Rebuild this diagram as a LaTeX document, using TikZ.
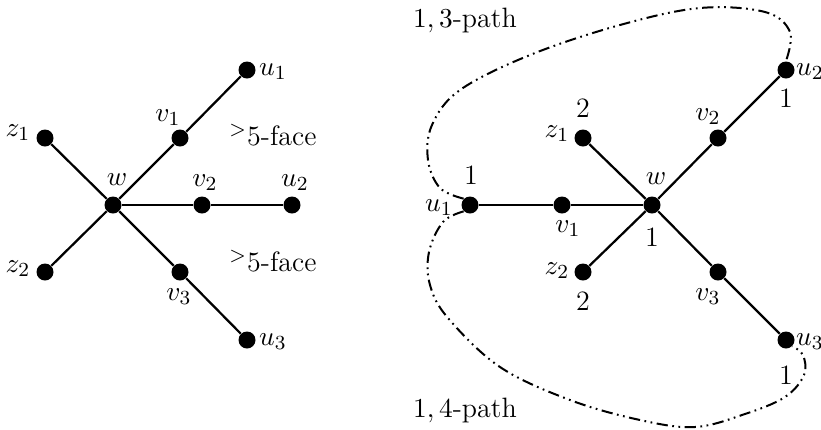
\documentclass[tikz,border=0pt]{standalone}
\begin{document}
\begin{tikzpicture}[x=0.4pt,y=-0.4pt,
  dot/.style={circle,fill=black,inner sep=0pt,minimum size=6.8pt},
  edge/.style={line width=0.9pt},
  lbl/.style={inner sep=0pt,font=\fontsize{11.2pt}{13pt}\selectfont},
  pathline/.style={line width=0.8pt,dash pattern=on 4.5pt off 1.8pt on 0.7pt off 1.8pt on 0.7pt off 1.8pt}]
\useasboundingbox (0,0) rectangle (821,429);
% ---------- left graph ----------
\node[dot] (w) at (113,205) {};
\node[dot] (v1) at (180,138) {};
\node[dot] (u1) at (247,70) {};
\node[dot] (v2) at (202,205) {};
\node[dot] (u2) at (292,205) {};
\node[dot] (v3) at (180,272) {};
\node[dot] (u3) at (247,340) {};
\node[dot] (z1) at (45,138) {};
\node[dot] (z2) at (45,272) {};
\draw[edge] (w) -- (v1) -- (u1);
\draw[edge] (w) -- (v2) -- (u2);
\draw[edge] (w) -- (v3) -- (u3);
\draw[edge] (w) -- (z1);
\draw[edge] (w) -- (z2);
\node[lbl] (lw) at (117,180) {$w$};
\node[lbl] (lv1) at (168,118) {$v_1$};
\node[lbl] (lu1) at (273,72) {$u_1$};
\node[lbl] (lv2) at (205,183) {$v_2$};
\node[lbl] (lu2) at (295,183) {$u_2$};
\node[lbl] (lv3) at (179,297) {$v_3$};
\node[lbl] (lu3) at (273,342) {$u_3$};
\node[lbl] (lz1) at (18,133) {$z_1$};
\node[lbl] (lz2) at (18,269) {$z_2$};
\node[lbl] (f1) at (273,135) {${}^{>}$5-face};
\node[lbl] (f2) at (273,261) {${}^{>}$5-face};
% ---------- right graph ----------
\node[dot] (W) at (652,205) {};
\node[dot] (V1) at (562,205) {};
\node[dot] (U1) at (470,205) {};
\node[dot] (V2) at (718,138) {};
\node[dot] (U2) at (786,70) {};
\node[dot] (V3) at (718,272) {};
\node[dot] (U3) at (786,340) {};
\node[dot] (Z1) at (583,138) {};
\node[dot] (Z2) at (583,272) {};
\draw[edge] (W) -- (V1) -- (U1);
\draw[edge] (W) -- (V2) -- (U2);
\draw[edge] (W) -- (V3) -- (U3);
\draw[edge] (W) -- (Z1);
\draw[edge] (W) -- (Z2);
\node[lbl] (LW) at (656,179) {$w$};
\node[lbl] (LW1) at (652,237) {1};
\node[lbl] (LV1) at (568,229) {$v_1$};
\node[lbl] (LU1) at (439,208) {$u_1$};
\node[lbl] (LU1n) at (471,175) {1};
\node[lbl] (LV2) at (708,117) {$v_2$};
\node[lbl] (LU2) at (810,72) {$u_2$};
\node[lbl] (LU2n) at (786,98) {1};
\node[lbl] (LV3) at (708,297) {$v_3$};
\node[lbl] (LU3) at (810,342) {$u_3$};
\node[lbl] (LU3n) at (786,375) {1};
\node[lbl] (LZ1) at (557,134) {$z_1$};
\node[lbl] (LZ1n) at (583,108) {2};
\node[lbl] (LZ2) at (557,271) {$z_2$};
\node[lbl] (LZ2n) at (583,301) {2};
\node[lbl] (P13) at (465,20) {$1,3$-path};
\node[lbl] (P14) at (465,410) {$1,4$-path};
\draw[pathline] plot[smooth,tension=0.6] coordinates
  {(U1.north west) (440,188) (428,160) (432,125) (460,90) (530,55) (620,25) (700,8) (765,12) (790,32) (U2.north)};
\draw[pathline] plot[smooth,tension=0.6] coordinates
  {(U1.south west) (443,222) (429,252) (430,285) (448,318) (500,367) (570,400) (640,420) (695,427) (745,414) (785,397) (804,375) (803,355) (U3.south east)};
\end{tikzpicture}
\end{document}
